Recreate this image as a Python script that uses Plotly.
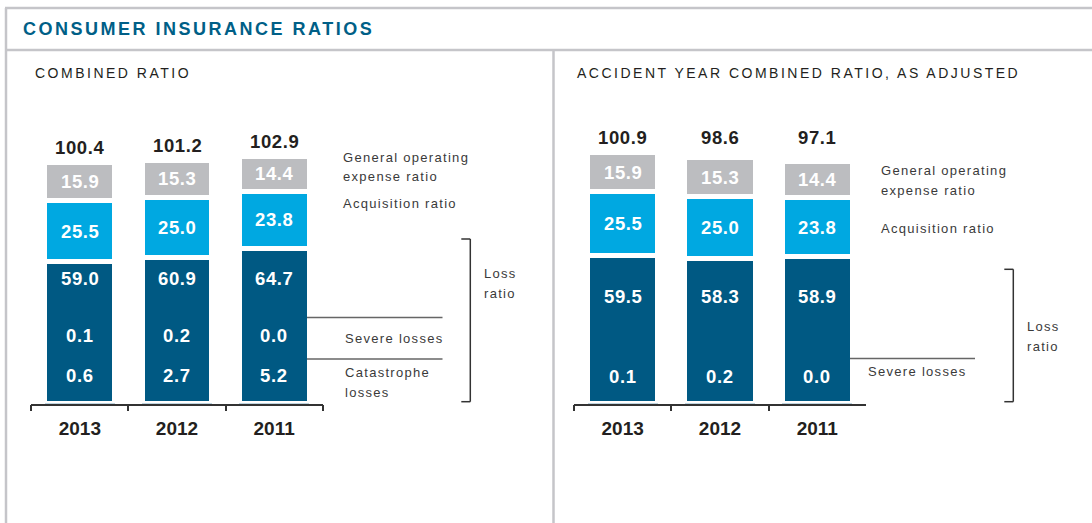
import plotly.graph_objects as go

# ---------------- data ----------------
years = ["2013", "2012", "2011"]

# Combined ratio (left panel)
cr_loss = [59.0, 60.9, 64.7]
cr_acq = [25.5, 25.0, 23.8]
cr_goe = [15.9, 15.3, 14.4]
cr_total = [100.4, 101.2, 102.9]
cr_severe = [0.1, 0.2, 0.0]
cr_cat = [0.6, 2.7, 5.2]

# Accident year combined ratio, as adjusted (right panel)
ay_loss = [59.5, 58.3, 58.9]
ay_acq = [25.5, 25.0, 23.8]
ay_goe = [15.9, 15.3, 14.4]
ay_total = [100.9, 98.6, 97.1]
ay_severe = [0.1, 0.2, 0.0]

# ---------------- style ----------------
W, H = 1092, 523
DARK = "#005983"
BLUE = "#00a8e1"
GREY = "#bcbdc0"
BORDER = "#c5c5c9"
TXT = "#231f20"
LEG = "#3a3a3a"
FONT = "Liberation Sans, Arial, sans-serif"


def px(x):
    return x / W


def py(y):
    return 1 - y / H


def spaced(t, s):
    return f'<span style="letter-spacing:{s}px">{t}</span>'


fig = go.Figure()

panels = [
    dict(xa="x", ya="y", loss=cr_loss, acq=cr_acq, goe=cr_goe),
    dict(xa="x2", ya="y2", loss=ay_loss, acq=ay_acq, goe=ay_goe),
]
for p in panels:
    for vals, col in [(p["loss"], DARK), (p["acq"], BLUE), (p["goe"], GREY)]:
        fig.add_trace(go.Bar(
            x=years, y=vals, xaxis=p["xa"], yaxis=p["ya"],
            marker=dict(color=col, line=dict(color="white", width=5)),
            width=0.72, hoverinfo="skip", showlegend=False,
        ))

ann = []


def num(i, y, text, xref, yref, color="white", yshift=0):
    ann.append(dict(x=i, y=y, xref=xref, yref=yref, text=spaced(text, 0.6),
                    showarrow=False, xanchor="center", yanchor="middle", yshift=yshift,
                    font=dict(family=FONT, size=18.5, color=color, weight="bold")))


# left panel labels
for i in range(len(years)):
    num(i, cr_total[i], f"{cr_total[i]:.1f}", "x", "y", TXT, yshift=15)
    num(i, cr_loss[i] + cr_acq[i] + cr_goe[i] / 2, f"{cr_goe[i]:.1f}", "x", "y")
    num(i, cr_loss[i] + cr_acq[i] / 2, f"{cr_acq[i]:.1f}", "x", "y")
    num(i, min(cr_loss), f"{cr_loss[i]:.1f}", "x", "y", yshift=-17)
    num(i, 0, f"{cr_severe[i]:.1f}", "x", "y", yshift=68)
    num(i, 0, f"{cr_cat[i]:.1f}", "x", "y", yshift=28)

# right panel labels
for i in range(len(years)):
    num(i, max(ay_total), f"{ay_total[i]:.1f}", "x2", "y2", TXT, yshift=15)
    num(i, ay_loss[i] + ay_acq[i] + ay_goe[i] / 2, f"{ay_goe[i]:.1f}", "x2", "y2")
    num(i, ay_loss[i] + ay_acq[i] / 2, f"{ay_acq[i]:.1f}", "x2", "y2")
    num(i, min(ay_loss), f"{ay_loss[i]:.1f}", "x2", "y2", yshift=-38)
    num(i, 0, f"{ay_severe[i]:.1f}", "x2", "y2", yshift=27)


def txt(x, y, text, size=13, color=LEG, spacing=1.3, weight="normal"):
    ann.append(dict(x=px(x), y=py(y), xref="paper", yref="paper", text=spaced(text, spacing),
                    showarrow=False, xanchor="left", yanchor="middle",
                    font=dict(family=FONT, size=size, color=color, weight=weight)))


# titles
txt(20.5, 29.5, "CONSUMER INSURANCE RATIOS", size=18, color="#005f87", spacing=2.5, weight="bold")
txt(32.5, 72.5, "COMBINED RATIO", size=14, color=TXT, spacing=2.5)
txt(575, 72.5, "ACCIDENT YEAR COMBINED RATIO, AS ADJUSTED", size=14, color=TXT, spacing=2.5)

# left side legend
txt(341, 157, "General operating")
txt(341, 176.5, "expense ratio")
txt(341, 203.5, "Acquisition ratio")
txt(342.5, 338.5, "Severe losses")
txt(342.5, 372, "Catastrophe")
txt(342.5, 392.5, "losses")
txt(481.5, 273, "Loss")
txt(481.5, 293.5, "ratio")

# right side legend
txt(879, 170, "General operating")
txt(879, 190, "expense ratio")
txt(879, 228, "Acquisition ratio")
txt(866, 371.5, "Severe losses")
txt(1025, 326, "Loss")
txt(1025, 346, "ratio")

shapes = []


def line(x0, y0, x1, y1, color, width):
    shapes.append(dict(type="line", xref="paper", yref="paper",
                       x0=px(x0), y0=py(y0), x1=px(x1), y1=py(y1),
                       line=dict(color=color, width=width)))


# frame
line(5, 8, W, 8, BORDER, 2.5)
line(6, 8, 6, H, BORDER, 2.5)
line(6, 50, W, 50, BORDER, 2.5)
line(553.5, 50, 553.5, H, BORDER, 2.5)

# leader lines
line(307, 317.5, 442.5, 317.5, "#666666", 1.5)
line(307, 359, 442.5, 359, "#666666", 1.5)
line(850, 358.5, 975, 358.5, "#666666", 1.5)

# brackets
for xb, y0, y1 in [(470.3, 239, 401.7), (1013.3, 269.3, 401.7)]:
    line(xb - 9, y0, xb, y0, "#333333", 1.5)
    line(xb, y0, xb, y1, "#333333", 1.5)
    line(xb - 9, y1, xb, y1, "#333333", 1.5)

y_bottom = 403.5
y_top = 103.5
span = y_bottom - y_top

xcommon = dict(type="category", range=[-0.5, 2.5], tickson="boundaries", ticks="outside",
               ticklen=6, tickwidth=1.5, tickcolor="#333333", showline=True,
               linecolor="#333333", linewidth=1.5, showgrid=False, zeroline=False,
               tickfont=dict(family=FONT, size=19, color=TXT, weight="bold"),
               ticklabelstandoff=7, fixedrange=True)
ycommon = dict(visible=False, showgrid=False, zeroline=False, fixedrange=True,
               domain=[py(y_bottom), py(y_top)])

fig.update_layout(
    width=W, height=H, margin=dict(l=0, r=0, t=0, b=0),
    paper_bgcolor="white", plot_bgcolor="rgba(0,0,0,0)",
    barmode="stack", bargap=0.28,
    xaxis=dict(domain=[px(31.3), px(322.7)], anchor="y", **xcommon),
    yaxis=dict(range=[0, span / 2.40], anchor="x", **ycommon),
    xaxis2=dict(domain=[px(574), px(866)], anchor="y2", **xcommon),
    yaxis2=dict(range=[0, span / 2.49], anchor="x2", **ycommon),
    annotations=ann, shapes=shapes,
)

fig.write_html("out.html", config={"displayModeBar": False},
               post_script="document.body.style.margin='0px';")
